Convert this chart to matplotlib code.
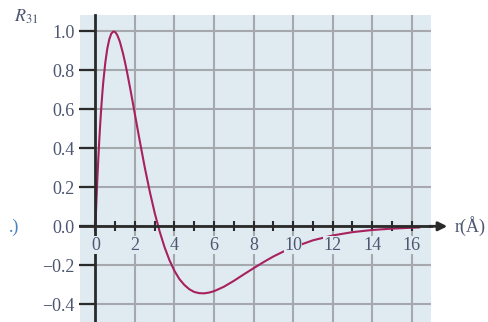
import matplotlib
matplotlib.use("Agg")
import matplotlib.pyplot as plt

# Data: normalised radial function R_31 vs r (Å)
r_vals = [0.0, 0.05, 0.1, 0.15, 0.2, 0.25, 0.3, 0.35, 0.4, 0.5, 0.6, 0.7, 0.8,
          0.9, 1.0, 1.1, 1.2, 1.25, 1.4, 1.5, 1.6, 1.75, 1.8, 2.0, 2.25, 2.5,
          2.75, 3.0, 3.25, 3.5, 3.75, 4.0, 4.25, 4.5, 4.75, 5.0, 5.25, 5.5,
          5.75, 6.0, 6.5, 7.0, 7.5, 8.0, 8.5, 9.0, 9.5, 10.0, 11.0, 12.0,
          13.0, 14.0, 15.0, 16.0, 16.4]
R31_vals = [0.0, 0.130, 0.248, 0.355, 0.451, 0.537, 0.614, 0.683, 0.743, 0.840,
            0.911, 0.959, 0.988, 0.999, 0.997, 0.982, 0.957, 0.942, 0.885,
            0.840, 0.791, 0.712, 0.685, 0.573, 0.434, 0.300, 0.178, 0.068,
            -0.027, -0.108, -0.175, -0.229, -0.271, -0.301, -0.323, -0.337,
            -0.343, -0.344, -0.340, -0.333, -0.310, -0.280, -0.247, -0.215,
            -0.184, -0.155, -0.130, -0.108, -0.072, -0.047, -0.030, -0.019,
            -0.012, -0.0075, -0.006]

x_tick_labels = ["0", "2", "4", "6", "8", "10", "12", "14", "16"]
x_label_pos = [0, 2, 4, 6, 8, 10, 12, 14, 16]
x_minor_pos = list(range(0, 17))
y_ticks = [-0.4, -0.2, 0.0, 0.2, 0.4, 0.6, 0.8, 1.0]

BG = "#e0eaf1"
GRID = "#a5a9ad"
AXC = "#2a2a2a"
TXT = "#4c5670"
CURVE = "#a8215f"

plt.rcParams["mathtext.fontset"] = "stix"

fig = plt.figure(figsize=(4.88, 3.22), dpi=100)
ax = fig.add_axes([80 / 488, 0.0, 350.7 / 488, 307 / 322])
ax.set_facecolor(BG)
ax.set_xlim(-0.78, 16.96)
ax.set_ylim(-0.491, 1.084)

# grid
for v in x_label_pos[1:]:
    ax.axvline(v, color=GRID, lw=1.5, zorder=1)
for v in y_ticks:
    ax.axhline(v, color=GRID, lw=1.5, zorder=1)

ax.plot(r_vals, R31_vals, color=CURVE, lw=1.5, zorder=2,
        solid_capstyle="round", solid_joinstyle="round")

for s in ["top", "right"]:
    ax.spines[s].set_visible(False)
ax.spines["left"].set_position(("data", 0))
ax.spines["bottom"].set_position(("data", 0))
for s in ["left", "bottom"]:
    ax.spines[s].set_color(AXC)
    ax.spines[s].set_linewidth(2.0)

ax.set_xticks(x_minor_pos)
ax.tick_params(axis="x", direction="inout", length=7.5, width=1.5, color=AXC,
               labelbottom=False)
ax.set_yticks(y_ticks)
ax.set_yticklabels([f"{v:.1f}".replace("-", "\u2212") for v in y_ticks])
ax.tick_params(axis="y", direction="out", length=11.5, width=1.6, color=AXC,
               pad=3.5, labelsize=13, labelcolor=TXT)
for lab in ax.get_yticklabels():
    lab.set_fontfamily("Liberation Serif")

for v, t in zip(x_label_pos, x_tick_labels):
    ax.annotate(t, (v, 0), xytext=(0, -7.5), textcoords="offset points",
                ha="center", va="top", fontsize=13, color=TXT,
                family="Liberation Serif", zorder=4,
                bbox=dict(facecolor=BG, edgecolor="none", pad=0.3))

# arrow extending the x axis
ax.annotate("", xy=(17.8, 0), xytext=(16.9, 0), xycoords="data",
            annotation_clip=False,
            arrowprops=dict(arrowstyle="-|>", color=AXC, lw=2,
                            mutation_scale=13, shrinkA=0, shrinkB=0))
ax.text(18.15, 0, "r(Å)", ha="left", va="center", fontsize=13,
        color=TXT, family="Liberation Serif", clip_on=False)

fig.text(14 / 488, 1 - 17 / 322, r"$R_{31}$", ha="left", va="center",
         fontsize=13, color=TXT)
fig.text(9 / 488, 1 - 227 / 322, ".)", ha="left", va="center", fontsize=13,
         color="#4a82c4", family="Liberation Serif")

fig.savefig("out.png", dpi=100)
